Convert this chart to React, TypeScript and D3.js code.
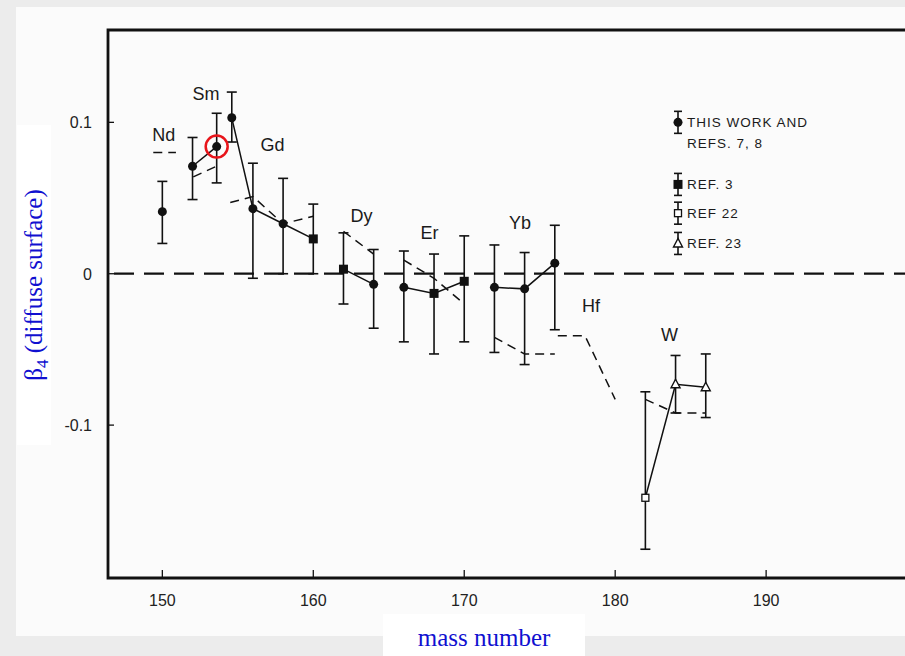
import React from "react";
import * as d3 from "d3";

const width = 905;
const height = 656;

// axis extents
const xDomain = [146.4, 199.2];
const yDomain = [-0.201, 0.161];
const xTicks = [150, 160, 170, 180, 190];
const yTicks = [0.1, 0, -0.1];
const yTickLabels = ["0.1", "0", "-0.1"];

// this work and refs. 7, 8 (filled circles)
const workMass = [150, 152, 153.6, 154.6, 156, 158, 164, 166, 172, 174, 176];
const workBeta = [0.041, 0.071, 0.084, 0.103, 0.043, 0.033, -0.007, -0.009, -0.009, -0.01, 0.007];
const workHi = [0.061, 0.09, 0.106, 0.12, 0.073, 0.063, 0.016, 0.015, 0.019, 0.014, 0.032];
const workLo = [0.02, 0.049, 0.06, 0.087, -0.003, 0.0, -0.036, -0.045, -0.052, -0.06, -0.037];

// ref. 3 (filled squares)
const ref3Mass = [160, 162, 168, 170];
const ref3Beta = [0.023, 0.003, -0.013, -0.005];
const ref3Hi = [0.046, 0.027, 0.013, 0.025];
const ref3Lo = [0.0, -0.02, -0.053, -0.045];

// ref. 22 (open square)
const ref22Mass = [182];
const ref22Beta = [-0.148];
const ref22Hi = [-0.078];
const ref22Lo = [-0.182];

// ref. 23 (open triangles)
const ref23Mass = [184, 186];
const ref23Beta = [-0.073, -0.075];
const ref23Hi = [-0.054, -0.053];
const ref23Lo = [-0.092, -0.095];

// solid lines joining the measured points (by mass number)
const solidChains = [
  [152, 153.6],
  [154.6, 156, 158, 160],
  [162, 164],
  [166, 168, 170],
  [172, 174, 176],
  [182, 184, 186],
];

// dashed calculated curves
const dashedCurves: [number, number][][] = [
  [[149.4, 0.08], [150.9, 0.08]],
  [[152.05, 0.064], [153.8, 0.072]],
  [[154.5, 0.047], [156, 0.051], [158, 0.033], [160, 0.038]],
  [[162, 0.028], [164, 0.013]],
  [[166, 0.009], [168, -0.003], [170, -0.02]],
  [[172, -0.042], [174, -0.053], [176, -0.053]],
  [[176.2, -0.041], [178, -0.041], [180, -0.083]],
  [[182, -0.083], [184, -0.092], [186, -0.092]],
];

const elements = ["Nd", "Sm", "Gd", "Dy", "Er", "Yb", "Hf", "W"];
const elementMass = [150.1, 152.9, 157.3, 163.2, 167.7, 173.7, 178.4, 183.6];
const elementBeta = [0.088, 0.115, 0.081, 0.034, 0.023, 0.0295, -0.0253, -0.0445];

const legendLabels = [["THIS WORK AND", "REFS. 7, 8"], ["REF. 3"], ["REF  22"], ["REF. 23"]];
const legendBeta = [0.1, 0.059, 0.04, 0.02];

const x = d3.scaleLinear().domain(xDomain).range([108, 905]);
const y = d3.scaleLinear().domain(yDomain).range([578, 30]);

type Pt = { m: number; b: number; hi: number; lo: number; kind: string };

const points: Pt[] = [
  ...workMass.map((m, i) => ({ m, b: workBeta[i], hi: workHi[i], lo: workLo[i], kind: "circle" })),
  ...ref3Mass.map((m, i) => ({ m, b: ref3Beta[i], hi: ref3Hi[i], lo: ref3Lo[i], kind: "square" })),
  ...ref22Mass.map((m, i) => ({ m, b: ref22Beta[i], hi: ref22Hi[i], lo: ref22Lo[i], kind: "open" })),
  ...ref23Mass.map((m, i) => ({ m, b: ref23Beta[i], hi: ref23Hi[i], lo: ref23Lo[i], kind: "tri" })),
];

const betaOf = (m: number) => points.find((p) => p.m === m)!.b;

const line = d3
  .line<[number, number]>()
  .x((d) => x(d[0]))
  .y((d) => y(d[1]));

const ink = "#111";
const font = "'Liberation Sans', Arial, sans-serif";

function Marker({ kind, cx, cy }: { kind: string; cx: number; cy: number }) {
  if (kind === "circle") return <circle cx={cx} cy={cy} r={4.5} fill={ink} />;
  if (kind === "square")
    return <rect x={cx - 4.5} y={cy - 4.5} width={9} height={9} fill={ink} />;
  if (kind === "open")
    return <rect x={cx - 3.5} y={cy - 3.5} width={7} height={7} fill="#fff" stroke={ink} strokeWidth={1.3} />;
  return (
    <path
      d={`M${cx},${cy - 5}L${cx + 4.5},${cy + 3.5}L${cx - 4.5},${cy + 3.5}Z`}
      fill="#fff"
      stroke={ink}
      strokeWidth={1.4}
    />
  );
}

function ErrorBar({ cx, top, bottom, cap = 5 }: { cx: number; top: number; bottom: number; cap?: number }) {
  return (
    <g stroke={ink} strokeWidth={1.6}>
      <line x1={cx} x2={cx} y1={top} y2={bottom} />
      <line x1={cx - cap} x2={cx + cap} y1={top} y2={top} />
      <line x1={cx - cap} x2={cx + cap} y1={bottom} y2={bottom} />
    </g>
  );
}

export default function App() {
  const legendX = 678;
  const legendKinds = ["circle", "square", "open", "tri"];
  return (
    <svg width={width} height={height} style={{ display: "block", position: "absolute", left: 0, top: 0 }}>
      <rect width={width} height={height} fill="#ececec" />
      <rect x={16} y={7} width={width - 16} height={629} fill="#fbfbfb" />
      <rect x={17} y={125} width={34} height={320} fill="#fff" />
      <rect x={383} y={614} width={202} height={42} fill="#fff" />

      {/* frame */}
      <path
        d={`M${x(xDomain[1])},${y(yDomain[1])}H${x(xDomain[0])}V${y(yDomain[0])}H${x(xDomain[1])}`}
        fill="none"
        stroke={ink}
        strokeWidth={2.8}
      />

      {/* ticks */}
      {xTicks.map((t) => (
        <g key={t}>
          <line x1={x(t)} x2={x(t)} y1={y(yDomain[0])} y2={y(yDomain[0]) - 8} stroke={ink} strokeWidth={1.3} />
          <text x={x(t)} y={606} textAnchor="middle" fontFamily={font} fontSize={16} fill="#222">
            {t}
          </text>
        </g>
      ))}
      {yTicks.map((t, i) => (
        <g key={t}>
          <line x1={x(xDomain[0])} x2={x(xDomain[0]) + 6} y1={y(t)} y2={y(t)} stroke={ink} strokeWidth={1.3} />
          <text x={92} y={y(t) + 6} textAnchor="end" fontFamily={font} fontSize={16} fill="#222">
            {yTickLabels[i]}
          </text>
        </g>
      ))}

      {/* zero line */}
      <line
        x1={x(xDomain[0])}
        x2={x(xDomain[1])}
        y1={y(0)}
        y2={y(0)}
        stroke={ink}
        strokeWidth={2.2}
        strokeDasharray="20 10"
        strokeDashoffset={-6}
      />

      {/* dashed curves */}
      {dashedCurves.map((c, i) => (
        <path key={i} d={line(c) ?? ""} fill="none" stroke={ink} strokeWidth={1.5} strokeDasharray="9 6" />
      ))}

      {/* solid chains */}
      {solidChains.map((c, i) => (
        <path
          key={i}
          d={line(c.map((m) => [m, betaOf(m)] as [number, number])) ?? ""}
          fill="none"
          stroke={ink}
          strokeWidth={1.5}
        />
      ))}

      {/* error bars and markers */}
      {points.map((p, i) => (
        <g key={i}>
          <ErrorBar cx={x(p.m)} top={y(p.hi)} bottom={y(p.lo)} />
          <Marker kind={p.kind} cx={x(p.m)} cy={y(p.b)} />
        </g>
      ))}

      {/* highlighted point */}
      <circle cx={x(153.6)} cy={y(0.084)} r={11} fill="none" stroke="#e8141a" strokeWidth={2.5} />

      {/* element labels */}
      {elements.map((e, i) => (
        <text
          key={e}
          x={x(elementMass[i])}
          y={y(elementBeta[i])}
          textAnchor="middle"
          fontFamily={font}
          fontSize={18}
          fill="#1a1a1a"
        >
          {e}
        </text>
      ))}

      {/* legend */}
      {legendLabels.map((lines, i) => {
        const cy = y(legendBeta[i]);
        return (
          <g key={i}>
            <ErrorBar cx={legendX} top={cy - 11} bottom={cy + 11} cap={4} />
            <Marker kind={legendKinds[i]} cx={legendX} cy={cy} />
            {lines.map((t, j) => (
              <text
                key={j}
                x={legendX + 9}
                y={cy + 5 + j * 21}
                fontFamily={font}
                fontSize={13.5}
                letterSpacing={1}
                fill="#1a1a1a"
              >
                {t}
              </text>
            ))}
          </g>
        );
      })}

      {/* axis titles */}
      <text
        transform={`translate(42,${285}) rotate(-90)`}
        textAnchor="middle"
        fontFamily="'Liberation Serif', 'Times New Roman', serif"
        fontSize={25}
        fill="#1010d0"
      >
        β<tspan fontSize={17} dy={6}>4</tspan>
        <tspan dy={-6}> (diffuse surface)</tspan>
      </text>
      <text
        x={484}
        y={646}
        textAnchor="middle"
        fontFamily="'Liberation Serif', 'Times New Roman', serif"
        fontSize={25}
        fill="#1010d0"
      >
        mass number
      </text>
    </svg>
  );
}
